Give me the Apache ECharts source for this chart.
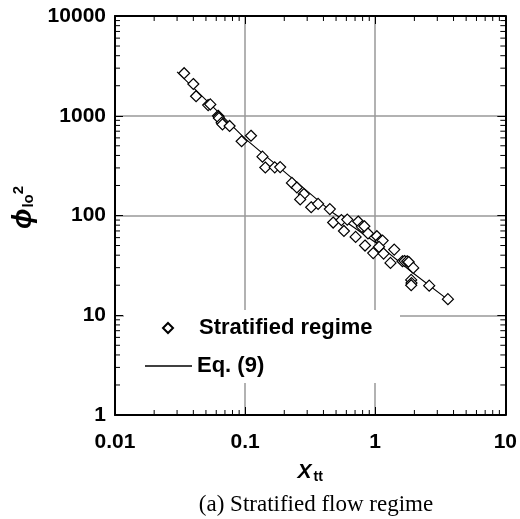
<!DOCTYPE html>
<html>
<head>
<meta charset="utf-8">
<script src="https://cdn.jsdelivr.net/npm/echarts@6/dist/echarts.min.js"></script>
<style>html,body{margin:0;padding:0;background:#fff}#c{width:520px;height:519px}</style>
</head>
<body>
<div id="c"></div>
<script>
// ---- data ----
const seriesNames = ['Stratified regime', 'Eq. (9)'];
const stratifiedData = [
  [0.034,2670],[0.040,2080],[0.042,1570],[0.052,1280],[0.054,1300],[0.062,1000],[0.0625,975],
  [0.063,945],[0.066,850],[0.067,820],[0.076,790],[0.094,555],[0.111,630],[0.136,389],
  [0.143,303],[0.169,304],[0.186,306],[0.229,212],[0.25,191],[0.283,164],[0.265,145],
  [0.322,121],[0.364,131],[0.448,116],[0.475,85],[0.575,70],[0.55,90],[0.61,91],[0.707,61],
  [0.74,87],[0.79,77],[0.825,78],[0.835,50],[0.88,66],[0.965,42],[1.03,62],[1.1,55.5],
  [1.14,56],[1.07,48.5],[1.16,41.5],[1.31,33.5],[1.40,45.5],[1.62,34.8],[1.68,35],[1.76,34.8],
  [1.81,34.2],[1.96,29.8],[1.89,22.6],[1.9,21],[1.89,20],[2.6,19.8],[3.62,14.5]
];
const eq9Data = [
  [0.030,2750],[0.053,1340],[0.1,590],[0.2,275],[0.47,107],[1,54],[1.92,27],[3.7,14]
];
const xTickLabels = ['0.01','0.1','1','10'];
const yTickLabels = ['1','10','100','1000','10000'];
const xMinorTicks = [0.02,0.03,0.04,0.05,0.06,0.07,0.08,0.09,0.2,0.3,0.4,0.5,0.6,0.7,0.8,0.9,2,3,4,5,6,7,8,9];
const yMinorTicks = [2,3,4,5,6,7,8,9,20,30,40,50,60,70,80,90,200,300,400,500,600,700,800,900,2000,3000,4000,5000,6000,7000,8000,9000];
const X_MIN = 0.01, X_MAX = 10, Y_MIN = 1, Y_MAX = 10000;
const caption = '(a) Stratified flow regime';

function labelFor(list, min) {
  return function (v) {
    const i = Math.round(Math.log10(v) - Math.log10(min));
    return list[i] !== undefined ? list[i] : '';
  };
}

const chart = echarts.init(document.getElementById('c'), null, {renderer: 'canvas'});
const FONT = 'Liberation Sans';
const axisLineStyle = {color: '#000', width: 2};
const gridLineStyle = {color: '#999', width: 1.5};
const MINOR_LEN = 5, MAJOR_LEN = 8;

chart.setOption({
  animation: false,
  backgroundColor: '#fff',
  grid: {left: 115, top: 16, right: 13, bottom: 104, containLabel: false},
  xAxis: [{
    type: 'log', logBase: 10, min: X_MIN, max: X_MAX,
    name: '{x|X}{s|tt}', nameLocation: 'middle', nameGap: 46,
    nameTextStyle: {rich: {
      x: {fontFamily: FONT, fontWeight: 'bold', fontStyle: 'italic', fontSize: 21, color: '#000'},
      s: {fontFamily: FONT, fontWeight: 'bold', fontSize: 14, color: '#000', verticalAlign: 'bottom', padding: [9,0,0,2]}
    }},
    axisLine: {lineStyle: axisLineStyle},
    axisTick: {inside: true, length: MAJOR_LEN, lineStyle: {color: '#000', width: 1}},
    axisLabel: {formatter: labelFor(xTickLabels, X_MIN), fontFamily: FONT, fontWeight: 'bold', fontSize: 21, color: '#000', margin: 17},
    splitLine: {show: true, lineStyle: gridLineStyle}
  }, {
    type: 'log', logBase: 10, min: X_MIN, max: X_MAX, position: 'top',
    axisLine: {lineStyle: axisLineStyle},
    axisTick: {inside: true, length: MAJOR_LEN, lineStyle: {color: '#000', width: 1}},
    axisLabel: {show: false}, splitLine: {show: false}
  }],
  yAxis: [{
    type: 'log', logBase: 10, min: Y_MIN, max: Y_MAX,
    name: '{p|ϕ}{s|lo}{t|2}', nameLocation: 'middle', nameGap: 70, nameRotate: 90,
    nameTextStyle: {padding: [0,0,0,16], rich: {
      p: {fontFamily: FONT, fontWeight: 'bold', fontStyle: 'italic', fontSize: 27, color: '#000'},
      s: {fontFamily: FONT, fontWeight: 'bold', fontSize: 15, color: '#000', padding: [12,0,0,1]},
      t: {fontFamily: FONT, fontWeight: 'bold', fontSize: 15, color: '#000', padding: [0,0,9,0]}
    }},
    axisLine: {lineStyle: axisLineStyle},
    axisTick: {inside: true, length: MAJOR_LEN, lineStyle: {color: '#000', width: 1}},
    axisLabel: {formatter: labelFor(yTickLabels, Y_MIN), fontFamily: FONT, fontWeight: 'bold', fontSize: 21, color: '#000', margin: 9},
    splitLine: {show: true, lineStyle: gridLineStyle}
  }, {
    type: 'log', logBase: 10, min: Y_MIN, max: Y_MAX, position: 'right',
    axisLine: {lineStyle: axisLineStyle},
    axisTick: {inside: true, length: MAJOR_LEN, lineStyle: {color: '#000', width: 1}},
    axisLabel: {show: false}, splitLine: {show: false}
  }],
  legend: [{
    data: [seriesNames[0]], left: 162, top: 317, padding: 0, z: 100,
    itemWidth: 10, itemHeight: 10,
    textStyle: {fontFamily: FONT, fontWeight: 'bold', fontSize: 22, color: '#000', padding: [0,0,0,21], lineHeight: 22}
  }, {
    data: [{name: seriesNames[1], icon: 'rect', itemStyle: {color: '#000'}}], left: 145, top: 355, padding: 0, z: 100,
    itemWidth: 47, itemHeight: 1.3,
    textStyle: {fontFamily: FONT, fontWeight: 'bold', fontSize: 22, color: '#000', lineHeight: 22}
  }],
  graphic: [{
    type: 'rect', z: 50, silent: true,
    shape: {x: 124, y: 310, width: 276, height: 73},
    style: {fill: '#fff'}
  }, {
    type: 'text', z: 50, silent: true,
    style: {text: caption, fontFamily: 'Liberation Serif', fontSize: 23, fill: '#000', x: 316, y: 505, align: 'center', verticalAlign: 'middle'}
  }],
  series: [{
    name: seriesNames[0], type: 'scatter', data: stratifiedData,
    symbol: 'diamond', symbolSize: 11, z: 4,
    itemStyle: {color: '#fff', borderColor: '#000', borderWidth: 1.2, opacity: 1}
  }, {
    name: seriesNames[1], type: 'line', data: eq9Data,
    symbol: 'none', showSymbol: false, z: 3,
    lineStyle: {color: '#000', width: 1.1}
  }, {
    type: 'custom', silent: true, z: 5, clip: false,
    data: xMinorTicks.map(v => [v, Y_MIN]),
    renderItem: function (params, api) {
      const x = api.value(0);
      const b = api.coord([x, Y_MIN]), t = api.coord([x, Y_MAX]);
      return {type: 'group', children: [
        {type: 'line', shape: {x1: b[0], y1: b[1], x2: b[0], y2: b[1] - MINOR_LEN}, style: {stroke: '#000', lineWidth: 1}},
        {type: 'line', shape: {x1: t[0], y1: t[1], x2: t[0], y2: t[1] + MINOR_LEN}, style: {stroke: '#000', lineWidth: 1}}
      ]};
    }
  }, {
    type: 'custom', silent: true, z: 5, clip: false,
    data: yMinorTicks.map(v => [X_MIN, v]),
    renderItem: function (params, api) {
      const y = api.value(1);
      const l = api.coord([X_MIN, y]), r = api.coord([X_MAX, y]);
      return {type: 'group', children: [
        {type: 'line', shape: {x1: l[0], y1: l[1], x2: l[0] + MINOR_LEN, y2: l[1]}, style: {stroke: '#000', lineWidth: 1}},
        {type: 'line', shape: {x1: r[0], y1: r[1], x2: r[0] - MINOR_LEN, y2: r[1]}, style: {stroke: '#000', lineWidth: 1}}
      ]};
    }
  }]
});
</script>
</body>
</html>
